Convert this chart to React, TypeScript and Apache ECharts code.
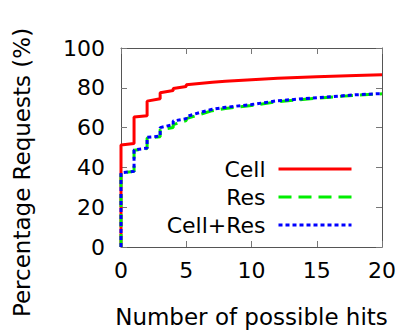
import React, { useEffect, useRef } from "react";
import * as echarts from "echarts";

const seriesNames = ["Cell", "Res", "Cell+Res"];

const cellData: [number, number][] = [
  [0, 0], [0, 51.2], [1, 52], [1, 65.3], [2, 66], [2, 73.3], [3, 74.5], [3, 77.5],
  [4, 78.6], [4, 79.6], [5, 80.6], [5, 81.5], [6, 82.2], [7, 82.8], [8, 83.3],
  [10, 84.1], [12, 84.8], [15, 85.6], [18, 86.2], [20, 86.6],
];

const resData: [number, number][] = [
  [0, 0], [0, 37.3], [1, 38], [1, 48.6], [2, 49.5], [2, 54.8], [3, 55.4], [3, 59],
  [4, 60], [4, 61.5], [5, 63.5], [5, 64.5], [6, 66.5], [7, 68.5], [8, 69.6],
  [10, 71.1], [12, 73], [15, 74.8], [18, 76.3], [20, 77],
];

const cellResData: [number, number][] = [
  [0, 0], [0, 37.3], [1, 38], [1, 48.8], [2, 49.7], [2, 55.1], [3, 55.7], [3, 60],
  [4, 61.5], [4, 63.3], [5, 64.5], [5, 65.5], [6, 67.5], [7, 69.2], [8, 70.2],
  [10, 71.6], [12, 73.5], [15, 75], [18, 76.5], [20, 77.1],
];

const xTicks = [0, 5, 10, 15, 20];
const yTicks = [0, 20, 40, 60, 80, 100];

const FONT = "DejaVu Sans";
const FS = 22;
const NFS = 23;

export default function App() {
  const ref = useRef<HTMLDivElement>(null);
  useEffect(() => {
    if (!ref.current) return;
    const chart = echarts.init(ref.current, null, { renderer: "svg" });
    const axisLine = { show: true, onZero: false, lineStyle: { color: "#555", width: 1 } };
    const tick = { show: true, inside: true, length: 6, lineStyle: { color: "#777" } };
    chart.setOption({
      animation: false,
      textStyle: { fontFamily: FONT },
      grid: { left: 121, right: 19, top: 48, bottom: 84, show: false },
      xAxis: [
        {
          type: "value", min: xTicks[0], max: xTicks[xTicks.length - 1], interval: 5,
          axisLine, axisTick: tick, splitLine: { show: false },
          axisLabel: { color: "#000", fontSize: FS, fontFamily: FONT, margin: 12 },
          name: "Number of possible hits", nameLocation: "middle", nameGap: 58,
          nameTextStyle: { color: "#000", fontSize: NFS, fontFamily: FONT },
        },
        {
          type: "value", position: "top", min: 0, max: 20, interval: 5,
          axisLine, axisTick: tick, axisLabel: { show: false }, splitLine: { show: false },
        },
      ],
      yAxis: [
        {
          type: "value", min: yTicks[0], max: yTicks[yTicks.length - 1], interval: 20,
          axisLine, axisTick: tick, splitLine: { show: false },
          axisLabel: { color: "#000", fontSize: FS, fontFamily: FONT, margin: 16 },
          name: "Percentage Requests (%)", nameLocation: "middle", nameGap: 88,
          nameTextStyle: { color: "#000", fontSize: NFS, fontFamily: FONT, padding: [0, 50, 0, 0] },
        },
        {
          type: "value", position: "right", min: 0, max: 100, interval: 20,
          axisLine, axisTick: tick, axisLabel: { show: false }, splitLine: { show: false },
        },
      ],
      legend: seriesNames.map((n, i) => ({
        show: true,
        data: [n],
        right: 48,
        top: 158 + i * 28,
        align: "right",
        orient: "vertical",
        padding: 0,
        itemWidth: 73,
        itemHeight: 14,
        itemGap: 0,
        selectedMode: false,
        itemStyle: { opacity: 0 },
        lineStyle: { width: 3 },
        textStyle: { fontSize: FS, fontFamily: FONT, color: "#000", padding: [0, 8, 0, 0] },
      })),
      series: [
        {
          name: "Cell", type: "line", data: cellData, showSymbol: false, symbol: "none",
          lineStyle: { color: "#ff0000", width: 3, type: "solid" }, itemStyle: { color: "#ff0000" },
          z: 2,
        },
        {
          name: "Res", type: "line", data: resData, showSymbol: false, symbol: "none",
          lineStyle: { color: "#00ee00", width: 3, type: [13, 7] }, itemStyle: { color: "#00ee00" },
          z: 3,
        },
        {
          name: "Cell+Res", type: "line", data: cellResData, showSymbol: false, symbol: "none",
          lineStyle: { color: "#0000ff", width: 3, type: [4, 3] }, itemStyle: { color: "#0000ff" },
          z: 4,
        },
      ],
    });
    return () => chart.dispose();
  }, []);
  return <div ref={ref} style={{ width: 401, height: 333, position: "absolute", left: 0, top: 0 }} />;
}
